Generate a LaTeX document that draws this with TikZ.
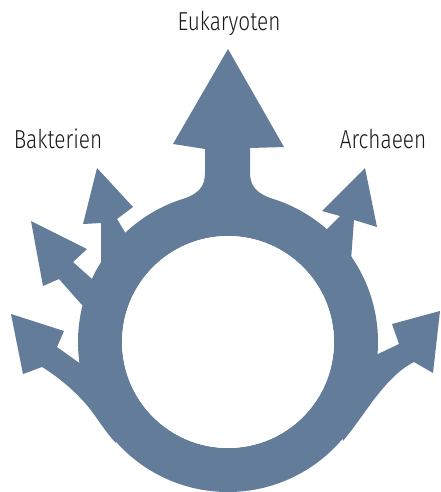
\documentclass[tikz,border=0pt]{standalone}
\usepackage{fontspec}
\setmainfont{Fira Sans Light}[FakeStretch=0.8]
\definecolor{ringblue}{RGB}{98,124,153}
\begin{document}
\begin{tikzpicture}[x=1pt,y=-1pt,
  shapefill/.style={fill=ringblue},
  lbl/.style={anchor=base,inner sep=0pt,font=\fontsize{26}{30}\selectfont,text=black!90}]
\useasboundingbox (0,0) rectangle (440,492);
% top arrow
\fill[shapefill] (228,49) -- (284,147) -- (250,148) -- (250,172)
  .. controls (250,188) and (258,193) .. (272,199) -- (228,215) -- (184,199)
  .. controls (198,193) and (205,188) .. (205,172) -- (205,149) -- (173,144) -- cycle;
% arrow A (upper left)
\fill[shapefill] (97,168) -- (133,207) -- (117,219) -- (126,234) -- (140,262) -- (101,262) -- (101,223) -- (83,224) -- cycle;
% arrow B
\fill[shapefill] (31,221) -- (87,249) -- (73,262) -- (92,279) -- (110,300) -- (82,305) -- (59,279) -- (43,286) -- cycle;
% arrow C
\fill[shapefill] (11,314) -- (64,331) -- (57,347) -- (78,362) -- (120,380) -- (116,443)
  .. controls (105,432) and (95,414) .. (85,403) .. controls (72,388) and (55,375) .. (42,367) -- (23,374) -- cycle;
% arrow D
\fill[shapefill] (365,168) -- (377,227) -- (354,220) -- (351,260) -- (320,250) -- (327,229) -- (340,216) -- (322,211) -- cycle;
% arrow E
\fill[shapefill] (440,311) -- (433,373) -- (414,362)
  .. controls (398,370) and (385,385) .. (372,402) .. controls (362,416) and (352,430) .. (343,441)
  -- (330,380) -- (378,354) -- (399,344) -- (392,324) -- cycle;
% ring
\fill[shapefill,even odd rule] (228,342) circle[radius=150] (228,342) circle[radius=106];
\fill[white] (228,342) circle[radius=106];
% labels
\node[lbl] (euk) at (229,31) {Eukaryoten};
\node[lbl] (bak) at (58,148) {Bakterien};
\node[lbl] (arc) at (383,148) {Archaeen};
\end{tikzpicture}
\end{document}
